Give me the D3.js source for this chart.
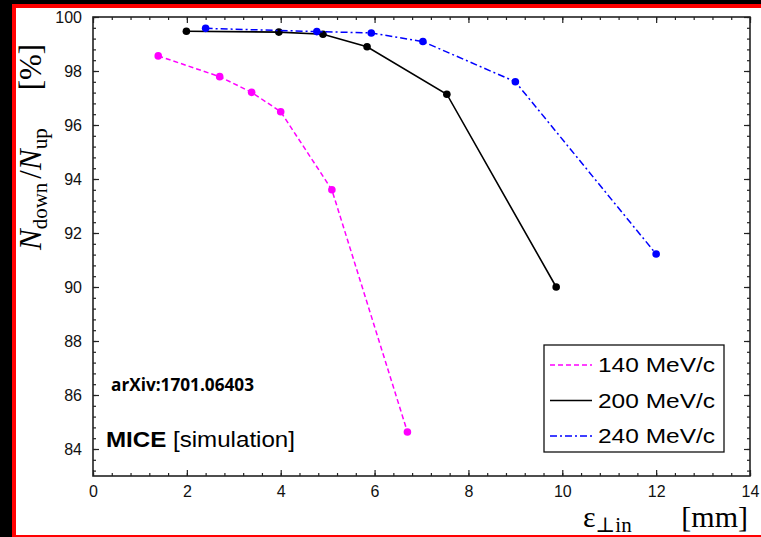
<!DOCTYPE html>
<html>
<head>
<meta charset="utf-8">
<script src="https://cdn.jsdelivr.net/npm/d3@7"></script>
<style>
  body { margin: 0; background: #000; }
  svg { display: block; }
  .axis path { display: none; }
  .axis line { stroke: #222; stroke-width: 1.2; }
  .axis text { font-family: "Liberation Sans", Arial, sans-serif; font-size: 16px; fill: #111; }
</style>
</head>
<body>
<div id="chart-area"></div>
<script>
// data
var x140 = [1.39, 2.70, 3.38, 4.00, 5.09, 6.70];
var y140 = [98.56, 97.79, 97.21, 96.49, 93.60, 84.63];
var x200 = [1.99, 3.96, 4.90, 5.84, 7.54, 9.87];
var y200 = [99.47, 99.44, 99.36, 98.90, 97.14, 90.00];
var x240 = [2.40, 4.77, 5.93, 7.03, 9.00, 12.00];
var y240 = [99.58, 99.46, 99.41, 99.09, 97.60, 91.22];

var seriesNames = ["140 MeV/c", "200 MeV/c", "240 MeV/c"];
var xTicks = [0, 2, 4, 6, 8, 10, 12, 14];
var yTicks = [84, 86, 88, 90, 92, 94, 96, 98, 100];

var chartWidth = 761, chartHeight = 537;
var margin = { top: 17, right: 11, bottom: 61, left: 93 };
var width = chartWidth - margin.left - margin.right,
    height = chartHeight - margin.top - margin.bottom;

var root = d3.select("#chart-area").append("svg")
    .attr("width", chartWidth)
    .attr("height", chartHeight);

// frame around the picture
root.append("rect").attr("width", chartWidth).attr("height", chartHeight).attr("fill", "#000");
root.append("rect").attr("x", 12).attr("y", 4).attr("width", 760).attr("height", 540).attr("fill", "#ff0000");
root.append("rect").attr("x", 16).attr("y", 8).attr("width", 760).attr("height", 527).attr("fill", "#fff");

var svg = root.append("g")
    .attr("transform", "translate(" + margin.left + "," + margin.top + ")");

// scales
var x = d3.scaleLinear().domain([0, 14]).range([0, width]);
var y = d3.scaleLinear().domain([83, 100]).range([height, 0]);

var xMinor = d3.range(0, 14.001, 0.4);
var yMinor = d3.range(83.2, 100.001, 0.4);

// axes, ticks pointing inward
svg.append("g").attr("class", "axis")
    .attr("transform", "translate(0," + height + ")")
    .call(d3.axisBottom(x).tickValues(xTicks).tickSize(-6).tickPadding(10));
svg.append("g").attr("class", "axis")
    .attr("transform", "translate(0," + height + ")")
    .call(d3.axisBottom(x).tickValues(xMinor).tickSize(-3).tickFormat(""));
svg.append("g").attr("class", "axis")
    .call(d3.axisTop(x).tickValues(xTicks).tickSize(-6).tickFormat(""));
svg.append("g").attr("class", "axis")
    .call(d3.axisTop(x).tickValues(xMinor).tickSize(-3).tickFormat(""));

svg.append("g").attr("class", "axis")
    .call(d3.axisLeft(y).tickValues(yTicks).tickSize(-6).tickPadding(11));
svg.append("g").attr("class", "axis")
    .call(d3.axisLeft(y).tickValues(yMinor).tickSize(-3).tickFormat(""));
svg.append("g").attr("class", "axis")
    .attr("transform", "translate(" + width + ",0)")
    .call(d3.axisRight(y).tickValues(yTicks).tickSize(-6).tickFormat(""));
svg.append("g").attr("class", "axis")
    .attr("transform", "translate(" + width + ",0)")
    .call(d3.axisRight(y).tickValues(yMinor).tickSize(-3).tickFormat(""));

// plot box
svg.append("rect")
    .attr("width", width).attr("height", height)
    .attr("fill", "none").attr("stroke", "#222").attr("stroke-width", 1.6);

// series
var series = [
    { name: seriesNames[0], xs: x140, ys: y140, color: "#ff00ff", dash: "5,3", w: 1.5 },
    { name: seriesNames[1], xs: x200, ys: y200, color: "#000000", dash: null, w: 1.6 },
    { name: seriesNames[2], xs: x240, ys: y240, color: "#0000ff", dash: "7,3,2,3", w: 1.5 }
];

var line = d3.line()
    .x(function(d) { return x(d[0]) })
    .y(function(d) { return y(d[1]) });

series.forEach(function(s) {
    var pts = s.xs.map(function(v, i) { return [v, s.ys[i]] });
    svg.append("path")
        .datum(pts)
        .attr("fill", "none")
        .attr("stroke", s.color)
        .attr("stroke-width", s.w)
        .attr("stroke-dasharray", s.dash)
        .attr("d", line);
    svg.selectAll(null)
        .data(pts)
        .enter().append("circle")
        .attr("cx", function(d) { return x(d[0]) })
        .attr("cy", function(d) { return y(d[1]) })
        .attr("r", 3.8)
        .attr("fill", s.color);
});

// legend
var legend = root.append("g").attr("transform", "translate(544,345)");
legend.append("rect")
    .attr("width", 180).attr("height", 107)
    .attr("fill", "#fff").attr("stroke", "#111").attr("stroke-width", 1.3);
series.forEach(function(s, i) {
    var yy = 20 + i * 35.5;
    legend.append("line")
        .attr("x1", 6).attr("x2", 48).attr("y1", yy).attr("y2", yy)
        .attr("stroke", s.color).attr("stroke-width", 1.4)
        .attr("stroke-dasharray", s.dash);
    legend.append("text")
        .attr("x", 54).attr("y", yy + 7)
        .attr("textLength", 117).attr("lengthAdjust", "spacingAndGlyphs")
        .style("font-family", "'Liberation Sans', Arial, sans-serif")
        .style("font-size", "20px")
        .text(s.name);
});

// annotations
root.append("text")
    .attr("x", 111).attr("y", 391)
    .attr("textLength", 143).attr("lengthAdjust", "spacingAndGlyphs")
    .style("font-family", "'Open Sans', 'Liberation Sans', sans-serif")
    .style("font-weight", "bold").style("font-size", "18px")
    .text("arXiv:1701.06403");

var mice = root.append("text")
    .attr("x", 106).attr("y", 447)
    .attr("textLength", 189).attr("lengthAdjust", "spacingAndGlyphs")
    .style("font-family", "'Liberation Sans', Arial, sans-serif")
    .style("font-size", "22px");
mice.append("tspan").style("font-weight", "bold").text("MICE");
mice.append("tspan").text(" [simulation]");

// axis titles
var serif = "'Liberation Serif', 'DejaVu Serif', serif";
var ylab = root.append("text")
    .attr("transform", "translate(41,250) rotate(-90)")
    .style("font-family", serif)
    .style("font-size", "31px");
ylab.append("tspan").style("font-style", "italic").text("N");
ylab.append("tspan").attr("dy", 6).style("font-size", "21px").text("down");
ylab.append("tspan").attr("dy", -6).attr("dx", 4).text("/");
ylab.append("tspan").style("font-style", "italic").text("N");
ylab.append("tspan").attr("dy", 6).style("font-size", "21px").text("up");
ylab.append("tspan").attr("dy", -6).attr("dx", 38).text("[%]");

var xlab = root.append("text")
    .attr("x", 583).attr("y", 527)
    .style("font-family", serif)
    .style("font-size", "30px");
xlab.append("tspan").text("ε");
xlab.append("tspan").attr("dy", 5).style("font-size", "21px").text("⊥in");
root.append("text")
    .attr("x", 748).attr("y", 527)
    .attr("text-anchor", "end")
    .style("font-family", serif)
    .style("font-size", "30px")
    .text("[mm]");
</script>
</body>
</html>
